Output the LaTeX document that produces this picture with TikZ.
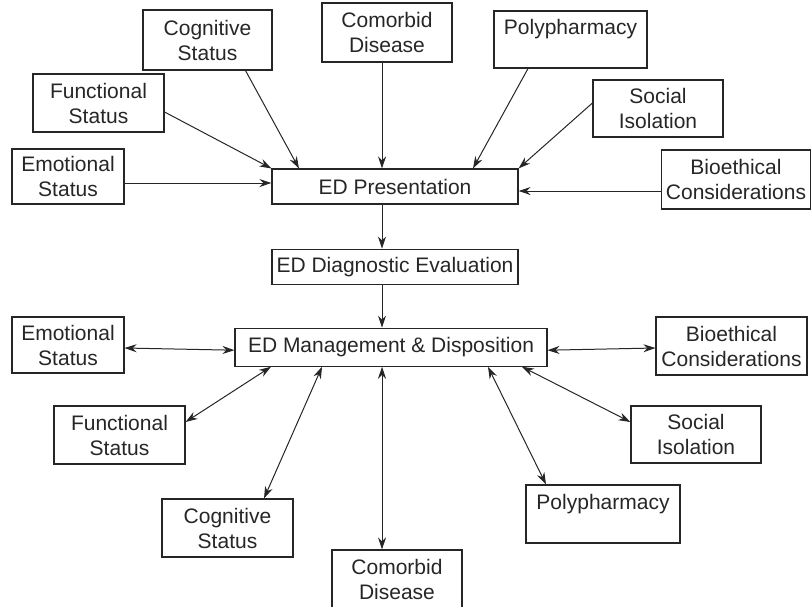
\documentclass[tikz,border=0pt]{standalone}
\usepackage{fontspec}
\setmainfont{Liberation Sans}
\usepackage{xcolor}
\usepackage{tikz}
\usetikzlibrary{arrows.meta, positioning}
\colorlet{ink}{black!85}
\tikzstyle{factor} = [rectangle, draw=ink, text=ink, align=center, inner sep=0pt,
                      line width=1.1pt, font=\fontsize{21}{25}\selectfont]
\tikzstyle{stage}  = [factor, minimum width=246pt, minimum height=35pt]
\tikzstyle{arrow}  = [-{Stealth[length=12pt, width=8pt]}, line width=1pt, draw=ink]
\tikzstyle{twoway} = [{Stealth[length=12pt, width=8pt]}-{Stealth[length=12pt, width=8pt]}, line width=1pt, draw=ink]

\begin{document}
\begin{tikzpicture}[x=1pt, y=-1pt]
  \clip (0,0) rectangle (811,606);
  \coordinate (axis) at (382,0);

  % Central chain
  \node[stage] (pres) at (395,186.5) {ED Presentation};
  \node[stage, below=44pt of pres] (diag) {ED Diagnostic Evaluation};
  \node[stage, minimum width=312pt, minimum height=38pt, below=43pt of diag, xshift=-4pt] (mgmt)
    {ED Management \& Disposition};

  % Factors at presentation
  \node[factor, minimum width=129pt, minimum height=60pt] (cogT)  at (207.5,40)  {Cognitive\\Status};
  \node[factor, minimum width=130pt, minimum height=59pt] (comT)  at (387,32.5)  {Comorbid\\Disease};
  \node[factor, minimum width=153pt, minimum height=57pt] (polyT) at (570.5,39.5) {Polypharmacy\\\mbox{}};
  \node[factor, minimum width=131pt, minimum height=58pt] (funT)  at (98.5,103)  {Functional\\Status};
  \node[factor, minimum width=112pt, minimum height=55pt] (emoT)  at (68,176.5)  {Emotional\\Status};
  \node[factor, minimum width=130pt, minimum height=57pt] (socT)  at (658,108.5) {Social\\Isolation};
  \node[factor, minimum width=149pt, minimum height=59pt] (bioT)  at (736,179.5) {Bioethical\\Considerations};

  % Factors at management
  \node[factor, minimum width=112pt, minimum height=56pt] (emoB)  at (68,345)    {Emotional\\Status};
  \node[factor, minimum width=151pt, minimum height=58pt] (bioB)  at (731.5,346) {Bioethical\\Considerations};
  \node[factor, minimum width=131pt, minimum height=58pt] (funB)  at (119.5,435) {Functional\\Status};
  \node[factor, minimum width=130pt, minimum height=57pt] (socB)  at (696,434.5) {Social\\Isolation};
  \node[factor, minimum width=131pt, minimum height=58pt] (cogB)  at (227.5,528) {Cognitive\\Status};
  \node[factor, minimum width=154pt, minimum height=58pt] (polyB) at (603,514)   {Polypharmacy\\\mbox{}};
  \node[factor, minimum width=130pt, minimum height=58pt] (comB)  at (397,579)   {Comorbid\\Disease};

  % Arrows — into presentation
  \draw[arrow] ([xshift=38pt]cogT.south) -- ([xshift=-96pt]pres.north);
  \draw[arrow] ([yshift=-9pt]funT.east) -- (pres.north west);
  \draw[arrow] ([yshift=-6.5pt]emoT.east) -- ([yshift=3.5pt]pres.west);
  \draw[arrow] (comT.south -| axis) -- (pres.north -| axis);
  \draw[arrow] ([xshift=-42.5pt]polyT.south) -- ([xshift=78pt]pres.north);
  \draw[arrow] ([yshift=5.5pt]socT.west) -- (pres.north east);
  \draw[arrow] ([yshift=-11.5pt]bioT.west) -- ([yshift=-4.5pt]pres.east);

  % Arrows — chain
  \draw[arrow] (pres.south -| axis) -- (diag.north -| axis);
  \draw[arrow] (diag.south -| axis) -- (mgmt.north -| axis);

  % Arrows — management
  \draw[twoway] ([yshift=-3pt]emoB.east) -- ([yshift=-3pt]mgmt.west);
  \draw[twoway] ([yshift=-3pt]mgmt.east) -- ([yshift=-2pt]bioB.west);
  \draw[twoway] ([yshift=13pt]funB.east) -- ([xshift=-120pt]mgmt.south);
  \draw[twoway] ([xshift=36.5pt]cogB.north) -- ([xshift=-69pt]mgmt.south);
  \draw[twoway] (mgmt.south -| axis) -- (comB.north -| axis);
  \draw[twoway] ([xshift=97pt]mgmt.south) -- ([xshift=-57pt]polyB.north);
  \draw[twoway] ([xshift=131pt]mgmt.south) -- ([yshift=12.5pt]socB.west);
\end{tikzpicture}
\end{document}
